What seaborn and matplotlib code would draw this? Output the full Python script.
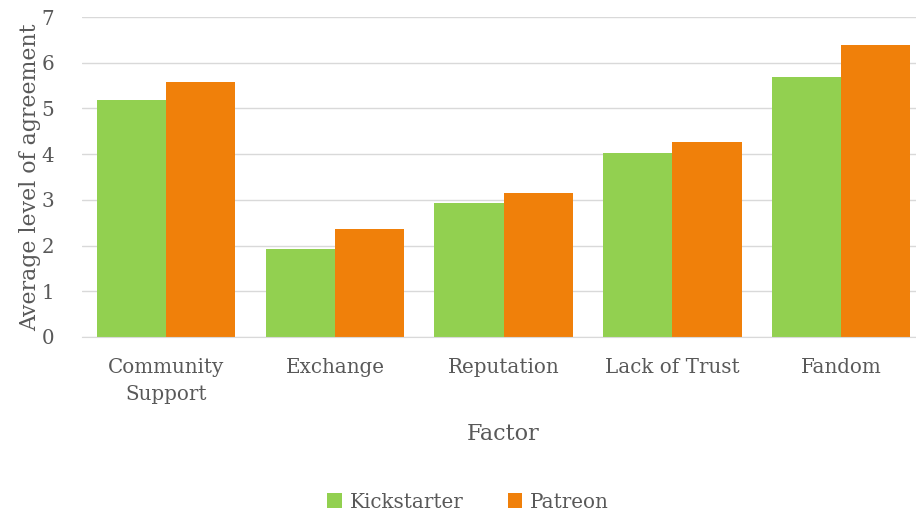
import pandas as pd
import seaborn as sns
import matplotlib.pyplot as plt

factors = ["Community\nSupport", "Exchange", "Reputation", "Lack of Trust", "Fandom"]
kickstarter = [5.19, 1.92, 2.92, 4.02, 5.69]
patreon = [5.58, 2.37, 3.14, 4.27, 6.39]

df = pd.DataFrame({
    "Factor": factors * 2,
    "Agreement": kickstarter + patreon,
    "Platform": ["Kickstarter"] * len(factors) + ["Patreon"] * len(factors),
})

sns.set_style("white")
plt.rcParams['font.family'] = ['DejaVu Serif']
text_color = "#595959"

fig = plt.figure(figsize=(9.16, 5.16), dpi=100)
ax = fig.add_axes([0.0893, 0.347, 0.921, 0.620])

sns.barplot(
    data=df, x="Factor", y="Agreement", hue="Platform",
    palette=["#92D050", "#F0800A"], width=0.82, saturation=1,
    linewidth=0, ax=ax,
)

ax.set_ylim(0, 7)
ax.set_yticks(range(0, 8))
ax.yaxis.grid(True, color="#D9D9D9", linewidth=1)
ax.set_axisbelow(True)
for s in ["top", "right", "left"]:
    ax.spines[s].set_visible(False)
ax.spines["bottom"].set_color("#D9D9D9")
ax.tick_params(axis="both", colors=text_color, labelsize=14.3, length=0)
ax.tick_params(axis="x", pad=15)
ax.tick_params(axis="y", pad=20)
ax.set_xticks(range(len(factors)))
ax.set_xticklabels(factors, linespacing=1.55)
ax.set_ylabel("Average level of agreement", fontsize=15.8, color=text_color, labelpad=0)
ax.set_xlabel("Factor", fontsize=16, color=text_color, labelpad=14)

ax.legend(loc="center", bbox_to_anchor=(0.458, -0.516), ncol=2, frameon=False,
          fontsize=14.3, labelcolor=text_color, handlelength=0.75, handleheight=0.75,
          columnspacing=2.2, handletextpad=0.4)

fig.savefig("out.png", dpi=100)
